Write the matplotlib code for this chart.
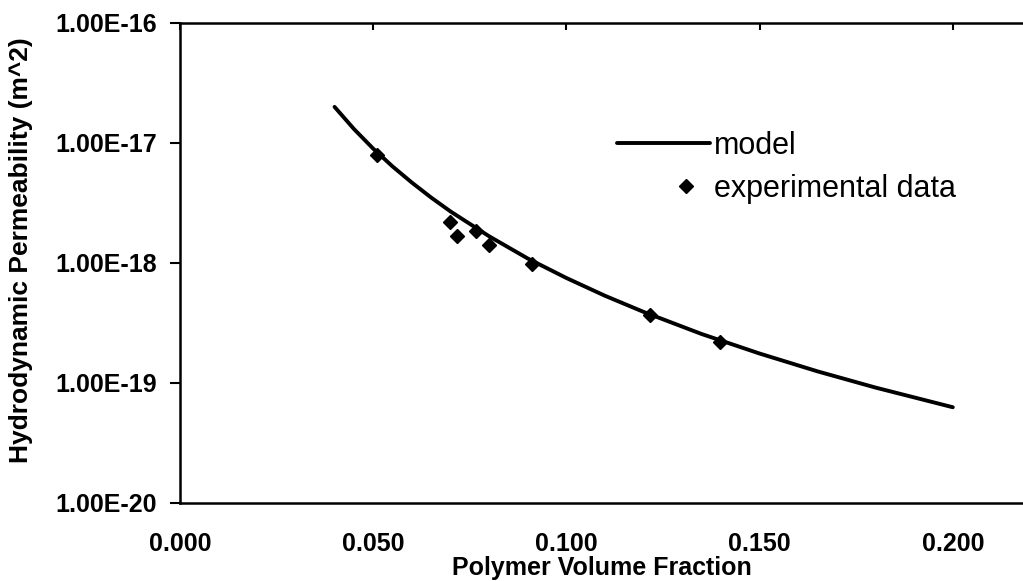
import matplotlib
matplotlib.use("Agg")
import matplotlib.pyplot as plt
from matplotlib.ticker import FixedLocator, FixedFormatter
from matplotlib.legend_handler import HandlerLine2D

# ---- data ----
model_x = [0.040, 0.045, 0.050, 0.055, 0.060, 0.065, 0.070, 0.080, 0.090,
           0.100, 0.110, 0.120, 0.135, 0.150, 0.165, 0.180, 0.200]
model_y = [2.00e-17, 1.31e-17, 8.97e-18, 6.38e-18, 4.68e-18, 3.51e-18,
           2.69e-18, 1.67e-18, 1.09e-18, 7.50e-19, 5.33e-19, 3.91e-19,
           2.56e-19, 1.76e-19, 1.25e-19, 9.16e-20, 6.28e-20]

exp_x = [0.0510, 0.0699, 0.0717, 0.0766, 0.0800, 0.0911, 0.1216, 0.1398]
exp_y = [7.9e-18, 2.2e-18, 1.68e-18, 1.85e-18, 1.41e-18, 9.8e-19, 3.69e-19, 2.2e-19]

x_ticks = [0.000, 0.050, 0.100, 0.150, 0.200]
x_tick_labels = ["0.000", "0.050", "0.100", "0.150", "0.200"]
y_ticks = [1e-20, 1e-19, 1e-18, 1e-17, 1e-16]
y_tick_labels = ["1.00E-20", "1.00E-19", "1.00E-18", "1.00E-17", "1.00E-16"]

x_label = "Polymer Volume Fraction"
y_label = "Hydrodynamic Permeability (m^2)"
legend_labels = ["model", "experimental data"]


class OffsetMarkerHandler(HandlerLine2D):
    """Place the single legend marker toward the right of the handle box."""
    def get_xdata(self, legend, xdescent, ydescent, width, height, fontsize):
        c = -xdescent + 0.742 * width
        return [c - 1, c + 1], [c]


# ---- figure ----
W, H = 1023, 581
fig = plt.figure(figsize=(W / 100, H / 100), dpi=100)
FONT = "Liberation Sans"

L, R, T, B = 180, 1023, 23, 503
ax = fig.add_axes([L / W, 1 - B / H, (R - L) / W, (B - T) / H])

line, = ax.plot(model_x, model_y, color="black", lw=2.8, solid_capstyle="round")
pts, = ax.plot(exp_x, exp_y, linestyle="none", marker="D", markersize=7.2,
               color="black")

ax.set_yscale("log")
ax.set_xlim(0, 0.05 * (R - L) / 193.2)
ax.set_ylim(1e-20, 1e-16)

ax.xaxis.set_major_locator(FixedLocator(x_ticks))
ax.xaxis.set_major_formatter(FixedFormatter(x_tick_labels))
ax.yaxis.set_major_locator(FixedLocator(y_ticks))
ax.yaxis.set_major_formatter(FixedFormatter(y_tick_labels))
ax.yaxis.set_minor_locator(FixedLocator([]))

for s in ["left", "top", "bottom"]:
    ax.spines[s].set_linewidth(1.8)
    ax.spines[s].set_color("black")
ax.spines["right"].set_visible(False)

ax.tick_params(axis="x", which="major", bottom=False, top=True, direction="in",
               length=5, width=1.5, labelbottom=True, labeltop=False, pad=20.6,
               labelsize=18)
ax.tick_params(axis="y", which="major", left=True, right=False, direction="out",
               length=7.2, width=1.5, pad=9.4, labelsize=18)
for lab in ax.get_xticklabels() + ax.get_yticklabels():
    lab.set_fontfamily(FONT)
    lab.set_fontweight("bold")

ax.set_xlabel(x_label, fontsize=18, fontweight="bold", family=FONT, labelpad=0.5)
ax.set_ylabel(y_label, fontsize=19, fontweight="bold", family=FONT)
ax.yaxis.set_label_coords(-0.1744, 0.527)

leg = fig.legend([line, pts], legend_labels, loc="upper left",
                 bbox_to_anchor=(617 / W, 1 - 131 / H), frameon=False,
                 prop={"family": FONT, "size": 22}, handlelength=3.05,
                 handletextpad=0.12, borderpad=0, borderaxespad=0,
                 labelspacing=0.43, numpoints=1,
                 handler_map={pts: OffsetMarkerHandler(numpoints=1)})

fig.savefig("out.png", dpi=100)
